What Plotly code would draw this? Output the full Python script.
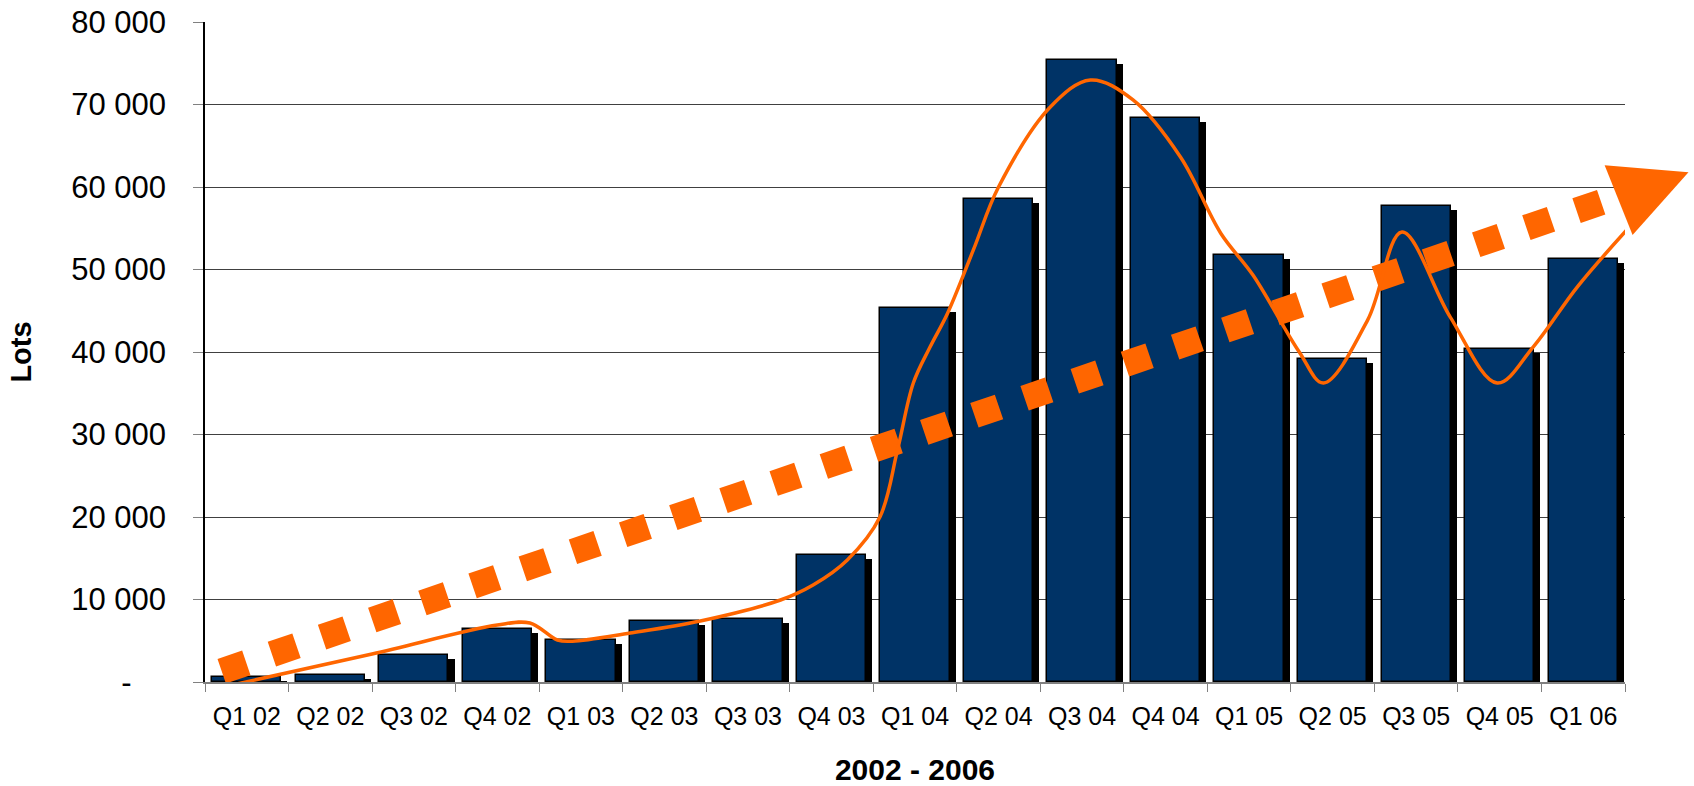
import plotly.graph_objects as go

# ---- data ----
quarters = ["Q1 02", "Q2 02", "Q3 02", "Q4 02", "Q1 03", "Q2 03", "Q3 03", "Q4 03",
            "Q1 04", "Q2 04", "Q3 04", "Q4 04", "Q1 05", "Q2 05", "Q3 05", "Q4 05", "Q1 06"]
lots = [600, 800, 3300, 6400, 5150, 7380, 7600, 15350, 45300, 58550, 75400, 68350,
        51750, 39200, 57700, 40400, 51300]

# hand-drawn smooth curve (x in category-index units)
curve_x = [-0.28, 1.5, 3.0, 3.39, 3.72, 3.9, 4.59, 5.43, 6.39, 6.78, 7.19, 7.58, 7.79,
           7.98, 8.18, 8.39, 8.70, 9.0, 9.62, 10.1, 10.61, 11.18, 11.66, 12.05, 12.6,
           12.89, 13.42, 13.83, 14.41, 14.97, 15.4, 15.93, 16.54]
curve_y = [-600, 3400, 6900, 7150, 5090, 4950, 5940, 7400, 9940, 11760, 14800, 20000,
           28100, 36240, 40600, 44700, 52400, 60000, 69700, 72970, 70550, 63600, 54400,
           49270, 40000, 36240, 43900, 54550, 44200, 36240, 40600, 47900, 55000]
arrow_tip = (17.26, 61800)

# dotted trend arrow
trend_x = [-0.30, 16.33]
trend_y = [1310, 58550]

y_ticks = [0, 10000, 20000, 30000, 40000, 50000, 60000, 70000, 80000]
y_labels = ["-\u00a0\u00a0\u00a0\u00a0", "10 000", "20 000", "30 000", "40 000",
            "50 000", "60 000", "70 000", "80 000"]

NAVY = "#003366"
ORANGE = "#FF6600"
FONT = "Arial, Liberation Sans, sans-serif"
Y_MAX = 80000
N = len(quarters)

fig = go.Figure()

# shadow bars (offset right / down)
shadow_dy = 485
fig.add_trace(go.Bar(
    x=quarters, y=[v for v in lots], base=[-shadow_dy] * N,
    width=0.83, offset=-0.415 + 0.072,
    marker=dict(color="black", line=dict(width=0)),
    hoverinfo="skip", showlegend=False,
))
# main bars
fig.add_trace(go.Bar(
    x=quarters, y=lots, width=0.83, offset=-0.415,
    marker=dict(color=NAVY, line=dict(color="black", width=1.5)),
    name="Lots", showlegend=False,
))
# dotted trend line
fig.add_trace(go.Scatter(
    x=trend_x, y=trend_y, xaxis="x2", yaxis="y", mode="lines",
    line=dict(color=ORANGE, width=26, dash="26px,27px"),
    hoverinfo="skip", showlegend=False,
))
# smooth curve
fig.add_trace(go.Scatter(
    x=curve_x, y=curve_y, xaxis="x2", yaxis="y", mode="lines",
    line=dict(color=ORANGE, width=3.5, shape="spline", smoothing=1.0),
    hoverinfo="skip", showlegend=False,
))

# arrow head at the end of the curve
tip_px = (arrow_tip[0] + 0.5) / N
tip_py = arrow_tip[1] / Y_MAX
fig.add_annotation(
    x=tip_px, y=tip_py, xref="paper", yref="paper",
    ax=-60, ay=24, axref="pixel", ayref="pixel",
    text="", showarrow=True, arrowhead=2, arrowsize=4.3, arrowwidth=3.5,
    arrowcolor=ORANGE,
)

fig.update_layout(
    width=1694, height=786,
    margin=dict(l=205, r=69, t=22, b=104),
    paper_bgcolor="white", plot_bgcolor="white",
    barmode="overlay", bargap=0,
    font=dict(family=FONT, color="black"),
    xaxis=dict(
        type="category", range=[-0.5, N - 0.5], automargin=False,
        tickson="boundaries", ticks="outside", ticklen=8, tickcolor="#808080",
        tickfont=dict(size=25, family=FONT), ticklabelstandoff=11,
        showline=True, linecolor="#808080", linewidth=1.5,
        showgrid=False, zeroline=False,
        title=dict(text="<b>2002 - 2006</b>", font=dict(size=30, family=FONT), standoff=50),
    ),
    xaxis2=dict(
        overlaying="x", range=[-0.5, N - 0.5], visible=False, showgrid=False,
    ),
    yaxis=dict(
        range=[0, Y_MAX], tickvals=y_ticks, ticktext=y_labels, automargin=False,
        ticks="outside", ticklen=10, tickcolor="#808080",
        tickfont=dict(size=31, family=FONT), ticklabelstandoff=21,
        showline=True, linecolor="black", linewidth=1.5,
        showgrid=True, gridcolor="#404040", gridwidth=1, zeroline=False,
        title=dict(text="<b>Lots</b>", font=dict(size=29, family=FONT), standoff=31),
    ),
)

fig.write_html("out.html")
